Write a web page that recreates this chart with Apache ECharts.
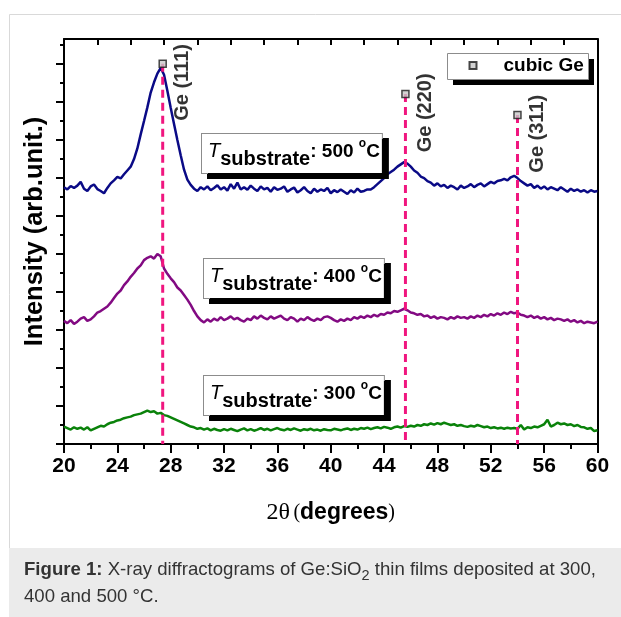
<!DOCTYPE html>
<html>
<head>
<meta charset="utf-8">
<title>XRD of Ge:SiO2 thin films</title>
<script src="https://cdn.jsdelivr.net/npm/echarts@6/dist/echarts.min.js"></script>
<style>
  html, body { margin: 0; padding: 0; background: #ffffff; }
  #chart { width: 621px; height: 617px; }
</style>
</head>
<body>
<div id="chart"></div>
<script>
// 2θ sampling of the diffractograms: 20° to 60° in 0.25° steps
const thetaStart = 20;
const thetaStep = 0.25;

// Intensity (arb. units) of the film deposited at 500 °C, one row per 2°
const intensity500 = [
  676, 670, 679, 674, 680, 690, 672, 666,
  678, 683, 671, 666, 660, 674, 686, 694,
  703, 699, 710, 720, 730, 750, 778, 815,
  850, 886, 925, 952, 975, 990, 972, 930,
  885, 842, 800, 760, 722, 696, 682, 672,
  666, 676, 670, 678, 668, 674, 681, 670,
  676, 667, 684, 672, 688, 670, 676, 669,
  680, 672, 666, 678, 670, 674, 664, 676,
  669, 672, 678, 664, 670, 675, 662, 668,
  676, 666, 660, 672, 664, 670, 666, 674,
  660, 668, 663, 670, 664, 658, 668, 662,
  672, 664, 666, 670, 670, 676, 684, 692,
  700, 710, 716, 722, 730, 736, 742, 738,
  730, 720, 714, 704, 700, 692, 688, 680,
  686, 678, 682, 674, 680, 676, 670, 680,
  674, 678, 684, 676, 682, 686, 678, 684,
  690, 686, 692, 694, 698, 694, 702, 706,
  700, 692, 686, 680, 684, 674, 680, 672,
  678, 670, 676, 672, 668, 676, 670, 664,
  672, 666, 670, 664, 668, 662, 668, 664,
  666
];

// Intensity of the film deposited at 400 °C
const intensity400 = [
  324, 318, 326, 316, 322, 330, 334, 324,
  328, 336, 346, 350, 356, 362, 372, 384,
  396, 404, 418, 428, 440, 450, 462, 470,
  484, 490, 494, 488, 500, 494, 462, 448,
  436, 426, 412, 404, 392, 380, 366, 350,
  336, 326, 320, 328, 322, 330, 325, 334,
  326, 330, 336, 328, 332, 326, 322, 330,
  326, 336, 330, 338, 332, 328, 336, 330,
  334, 338, 330, 326, 334, 330, 322, 330,
  326, 334, 328, 324, 330, 326, 334, 336,
  332, 326, 322, 328, 324, 330, 326, 334,
  330, 336, 332, 338, 334, 340, 336, 342,
  340, 346, 344, 350, 348, 352, 356, 352,
  346, 344, 340, 342, 336, 338, 332, 336,
  330, 334, 332, 328, 334, 330, 336, 332,
  334, 330, 336, 332, 338, 334, 340, 336,
  342, 338, 344, 340, 346, 342, 348, 344,
  346, 340, 338, 334, 338, 332, 336, 330,
  334, 328, 332, 326, 330, 328, 324, 328,
  322, 326, 320, 324, 318, 322, 320, 318,
  322
];

// Intensity of the film deposited at 300 °C
const intensity300 = [
  46, 42, 38, 44, 40, 43, 38, 44,
  36, 40, 44, 48, 46, 52, 56, 58,
  62, 64, 68, 70, 72, 76, 78, 80,
  84, 88, 84, 86, 80, 82, 76, 74,
  70, 66, 62, 58, 54, 50, 46, 44,
  40, 42, 38, 41, 36, 40, 37, 35,
  39, 36, 40, 37, 34, 38, 41, 36,
  39, 35, 38, 42, 37, 40, 36, 39,
  42, 38, 36, 40, 37, 41, 38, 35,
  39, 37, 40, 36, 38, 35, 39, 37,
  36, 40, 38, 36, 39, 41, 37, 40,
  38, 42, 40, 43, 39, 42, 44, 41,
  45, 43, 40, 44, 46, 43, 47, 45,
  48, 46, 50, 48, 52, 50, 54, 51,
  55, 52, 56, 53, 50, 52, 48, 50,
  47, 45, 48, 46, 50, 47, 44, 46,
  42, 44, 41, 43, 40, 43, 41, 42,
  40, 50, 38, 44, 42, 46, 44, 48,
  52, 64, 46, 50, 56, 52, 54, 50,
  52, 47, 50, 45, 44, 40, 42, 34,
  36
];

// Reference reflections of cubic Ge: labels, 2θ positions, marker heights
const geReflections = ['Ge (111)', 'Ge (220)', 'Ge (311)'];
const gePositions = [27.4, 45.6, 54.0];
const geMarkerHeights = [1001, 921, 866];

// Substrate temperatures (°C) of the three films
const substrateTemps = ['500', '400', '300'];

// Tick values of the intensity axis (no labels are printed)
const yMajorTicks = [0, 100, 200, 300, 400, 500, 600, 700, 800, 900, 1000];
const yMinorTicks = [50, 150, 250, 350, 450, 550, 650, 750, 850, 950, 1050];

const FONT = 'Arial, "Liberation Sans", Helvetica, sans-serif';
const SERIF = '"Times New Roman", "Liberation Serif", serif';
const PINK = '#f0167f';
const curveColors = ['#0a0a86', '#820a82', '#0a820a'];

function toPairs(values) {
  return values.map((v, i) => [thetaStart + i * thetaStep, v]);
}

const curves = [intensity500, intensity400, intensity300];

// Rich-text styles for the "T_substrate: xxx °C" boxes
const tempRich = {
  t: { fontFamily: FONT, fontSize: 20, fontStyle: 'italic', fill: '#000', verticalAlign: 'bottom', padding: [0, 0, 8, 0] },
  s: { fontFamily: FONT, fontSize: 20, fontWeight: 'bold', fill: '#000', verticalAlign: 'bottom' },
  v: { fontFamily: FONT, fontSize: 19, fontWeight: 'bold', fill: '#000', verticalAlign: 'bottom', padding: [0, 0, 8, 0] },
  o: { fontFamily: FONT, fontSize: 12, fontWeight: 'bold', fill: '#000', verticalAlign: 'bottom', padding: [0, 0, 19, 0] }
};

function tempBox(temp, left, top) {
  return {
    type: 'text',
    left: left,
    top: top,
    z: 20,
    style: {
      text: '{t|T}{s|substrate}{v|: ' + temp + ' }{o|o}{v|C}',
      rich: tempRich,
      backgroundColor: '#ffffff',
      borderColor: '#8c8c8c',
      borderWidth: 1,
      padding: [4, 2, 4, 6],
      shadowColor: '#000000',
      shadowOffsetX: 6,
      shadowOffsetY: 5,
      shadowBlur: 0
    }
  };
}

const chart = echarts.init(document.getElementById('chart'), null, { renderer: 'canvas' });

const option = {
  animation: false,
  backgroundColor: '#ffffff',
  textStyle: { fontFamily: FONT },
  grid: { left: 64, right: 23.5, top: 39, bottom: 173, containLabel: false },
  legend: {
    data: ['cubic Ge'],
    left: 468.5,
    top: 56,
    z: 6,
    icon: 'rect',
    itemWidth: 7,
    itemHeight: 7,
    padding: 0,
    selectedMode: false,
    textStyle: { fontFamily: FONT, fontSize: 19, fontWeight: 'bold', color: '#000', padding: [0, 0, 0, 22] }
  },
  xAxis: [
    {
      type: 'value', position: 'bottom', min: 20, max: 60, interval: 4,
      axisLine: { show: true, onZero: false, lineStyle: { color: '#000', width: 2 } },
      axisTick: { show: true, inside: false, length: 9, lineStyle: { color: '#000', width: 2 } },
      minorTick: { show: true, splitNumber: 2, length: 5, lineStyle: { color: '#000', width: 2 } },
      axisLabel: { show: true, margin: 12, color: '#000', fontFamily: FONT, fontSize: 21, fontWeight: 'bold' },
      splitLine: { show: false },
      minorSplitLine: { show: false },
      name: '{a|2θ} {p|(}{b|degrees}{p|)}',
      nameLocation: 'middle',
      nameGap: 57,
      nameTextStyle: {
        rich: {
          a: { fontFamily: SERIF, fontSize: 24, color: '#000' },
          p: { fontFamily: SERIF, fontSize: 20, color: '#000' },
          b: { fontFamily: FONT, fontSize: 23, fontWeight: 'bold', color: '#000' }
        }
      }
    },
    {
      type: 'value', position: 'top', min: 20, max: 60, interval: 2.5,
      axisLine: { show: true, onZero: false, lineStyle: { color: '#000', width: 2 } },
      axisTick: { show: true, inside: true, length: 6, lineStyle: { color: '#000', width: 2 } },
      axisLabel: { show: false },
      splitLine: { show: false }
    }
  ],
  yAxis: [
    {
      type: 'value', position: 'left', min: 0, max: 1066,
      axisLine: { show: true, onZero: false, lineStyle: { color: '#000', width: 2 } },
      axisTick: { show: true, inside: false, length: 8, lineStyle: { color: '#000', width: 2 }, customValues: yMajorTicks },
      axisLabel: { show: false },
      splitLine: { show: false },
      name: 'Intensity (arb.unit.)',
      nameLocation: 'middle',
      nameGap: 16,
      nameTextStyle: { fontFamily: FONT, fontSize: 25.5, fontWeight: 'bold', color: '#000', padding: [0, 0, 0, 20] }
    },
    {
      type: 'value', position: 'left', min: 0, max: 1066,
      axisLine: { show: false },
      axisTick: { show: true, inside: false, length: 4, lineStyle: { color: '#000', width: 2 }, customValues: yMinorTicks },
      axisLabel: { show: false },
      splitLine: { show: false }
    },
    {
      type: 'value', position: 'right', min: 0, max: 1066,
      axisLine: { show: true, onZero: false, lineStyle: { color: '#000', width: 2 } },
      axisTick: { show: false },
      axisLabel: { show: false },
      splitLine: { show: false }
    }
  ],
  series: [
    ...curves.map((values, i) => ({
      type: 'line',
      name: substrateTemps[i] + ' °C',
      xAxisIndex: 0,
      yAxisIndex: 0,
      data: toPairs(values),
      showSymbol: false,
      symbol: 'none',
      smooth: false,
      sampling: null,
      z: 2,
      silent: true,
      lineStyle: { color: curveColors[i], width: 2.5 }
    })),
    // Dashed reference lines of the Ge reflections
    ...gePositions.map((pos, i) => ({
      type: 'line',
      name: geReflections[i] + ' line',
      xAxisIndex: 0,
      yAxisIndex: 0,
      data: [[pos, geMarkerHeights[i]], [pos, 0]],
      showSymbol: false,
      symbol: 'none',
      z: 3,
      silent: true,
      lineStyle: { color: PINK, width: 3, type: [8, 5] }
    })),
    {
      type: 'scatter',
      name: 'cubic Ge',
      xAxisIndex: 0,
      yAxisIndex: 0,
      z: 5,
      silent: true,
      symbol: 'rect',
      symbolSize: 7,
      itemStyle: { color: '#c8c8c8', borderColor: '#1a1a1a', borderWidth: 1.5 },
      data: gePositions.map((p, i) => ({ name: geReflections[i], value: [p, geMarkerHeights[i]] })),
      label: {
        show: true,
        formatter: '{b}',
        rotate: 90,
        position: [24, 23],
        align: 'center',
        verticalAlign: 'middle',
        fontFamily: FONT,
        fontSize: 20,
        fontWeight: 'bold',
        color: '#000'
      }
    }
  ],
  graphic: [
    // outer frame of the figure
    {
      type: 'rect', z: 0, silent: true,
      shape: { x: 9.5, y: 14.5, width: 640, height: 560 },
      style: { fill: 'none', stroke: '#d9d9d9', lineWidth: 1 }
    },
    // legend frame with its drop shadow
    {
      type: 'rect', z: 5, silent: true,
      shape: { x: 453, y: 59, width: 141, height: 26 },
      style: { fill: '#000000' }
    },
    {
      type: 'rect', z: 5, silent: true,
      shape: { x: 447.5, y: 53.5, width: 141, height: 26 },
      style: { fill: '#ffffff', stroke: '#8c8c8c', lineWidth: 1 }
    },
    // caption panel
    {
      type: 'rect', z: 1, silent: true,
      shape: { x: 9, y: 548, width: 620, height: 70 },
      style: { fill: '#ebebeb' }
    },
    {
      type: 'text', left: 24, top: 556, z: 2, silent: true,
      style: {
        text: '{b|Figure 1:}{n| X-ray diffractograms of Ge:SiO}{sub|2}{n| thin films deposited at 300,}\n{n|400 and 500 °C.}',
        lineHeight: 27,
        rich: {
          b: { fontFamily: FONT, fontSize: 18.6, fontWeight: 'bold', fill: '#333', verticalAlign: 'bottom', padding: [0, 0, 4, 0] },
          n: { fontFamily: FONT, fontSize: 18.6, fill: '#333', verticalAlign: 'bottom', padding: [0, 0, 4, 0] },
          sub: { fontFamily: FONT, fontSize: 14.5, fill: '#333', verticalAlign: 'bottom', padding: [0, 0, 0, 0] }
        }
      }
    },
    tempBox(substrateTemps[0], 201, 133),
    tempBox(substrateTemps[1], 203, 258),
    tempBox(substrateTemps[2], 203, 375)
  ]
};

chart.setOption(option);
</script>
</body>
</html>
